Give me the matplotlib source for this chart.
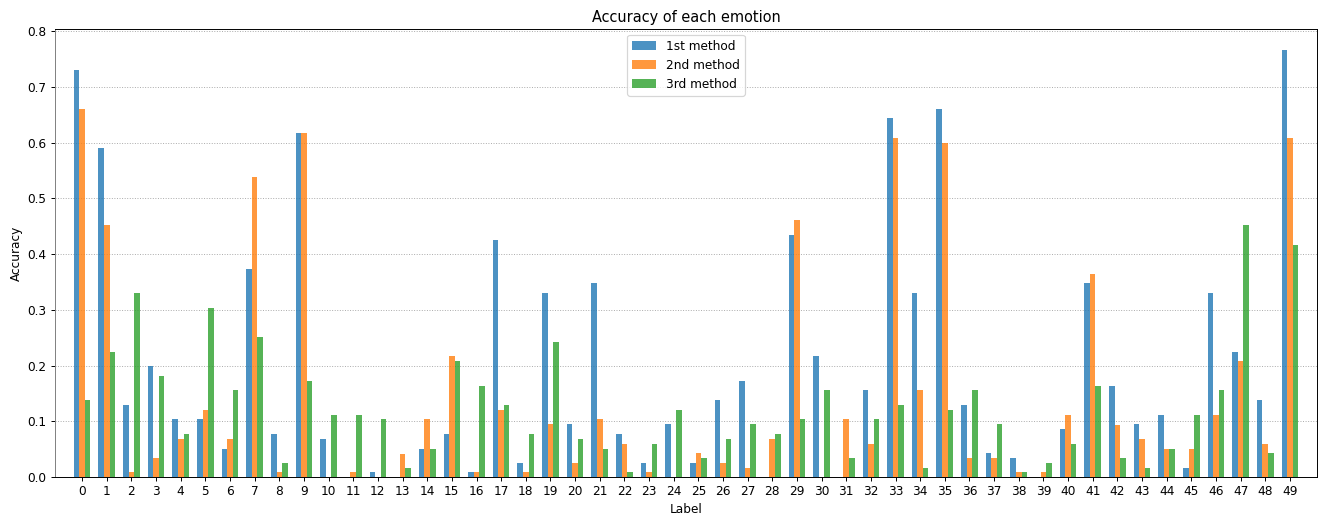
import matplotlib
matplotlib.use("Agg")
import matplotlib.pyplot as plt
import numpy as np

# номера эмоций
labels = list(range(50))

# точность по каждому методу
method1 = [0.731, 0.591, 0.130, 0.199, 0.104, 0.104, 0.051, 0.374, 0.078, 0.617,
           0.069, 0.0, 0.0087, 0.0, 0.051, 0.078, 0.0087, 0.426, 0.026, 0.330,
           0.095, 0.348, 0.078, 0.026, 0.095, 0.026, 0.138, 0.173, 0.0, 0.435,
           0.217, 0.0, 0.156, 0.644, 0.330, 0.661, 0.130, 0.043, 0.034, 0.0,
           0.086, 0.348, 0.163, 0.095, 0.112, 0.017, 0.330, 0.225, 0.138, 0.766]
method2 = [0.661, 0.452, 0.0087, 0.034, 0.069, 0.121, 0.069, 0.539, 0.0087, 0.617,
           0.0, 0.0087, 0.0, 0.042, 0.104, 0.217, 0.0087, 0.121, 0.0087, 0.095,
           0.026, 0.104, 0.060, 0.0087, 0.0, 0.043, 0.026, 0.017, 0.069, 0.461,
           0.0, 0.104, 0.060, 0.609, 0.156, 0.600, 0.034, 0.034, 0.0087, 0.0087,
           0.112, 0.365, 0.094, 0.069, 0.051, 0.051, 0.112, 0.208, 0.060, 0.609]
method3 = [0.138, 0.225, 0.330, 0.182, 0.078, 0.304, 0.156, 0.252, 0.026, 0.173,
           0.112, 0.112, 0.104, 0.017, 0.051, 0.208, 0.164, 0.130, 0.078, 0.243,
           0.069, 0.051, 0.0087, 0.060, 0.121, 0.034, 0.069, 0.095, 0.078, 0.104,
           0.156, 0.034, 0.104, 0.130, 0.017, 0.121, 0.156, 0.095, 0.0087, 0.026,
           0.060, 0.164, 0.034, 0.017, 0.051, 0.112, 0.156, 0.452, 0.043, 0.417]
names = ['1st method', '2nd method', '3rd method']


def main():
    fig = plt.figure(figsize=(1326 / 87, 516 / 87), dpi=87)
    ax = fig.add_axes([0.0415, 0.0756, 0.9517, 0.8682])
    x = np.arange(len(labels))
    w = 0.225
    ax.bar(x - w, method1, w, color='tab:blue', alpha=0.8, label=names[0])
    ax.bar(x, method2, w, color='tab:orange', alpha=0.8, label=names[1])
    ax.bar(x + w, method3, w, color='tab:green', alpha=0.8, label=names[2])
    ax.set_xticks(x)
    ax.set_xticklabels([str(v) for v in labels])
    ax.set_xlim(-1.1, 50.1)
    ax.set_axisbelow(True)
    ax.yaxis.grid(True, linestyle=':', color='#aaaaaa')
    ax.spines['left'].set_color('#808080')
    ax.set_xlabel('Label')
    ax.set_ylabel('Accuracy')
    ax.set_title('Accuracy of each emotion')
    ax.legend(loc='upper center')
    fig.savefig('out.png', dpi=87)


if __name__ == "__main__":
    main()
